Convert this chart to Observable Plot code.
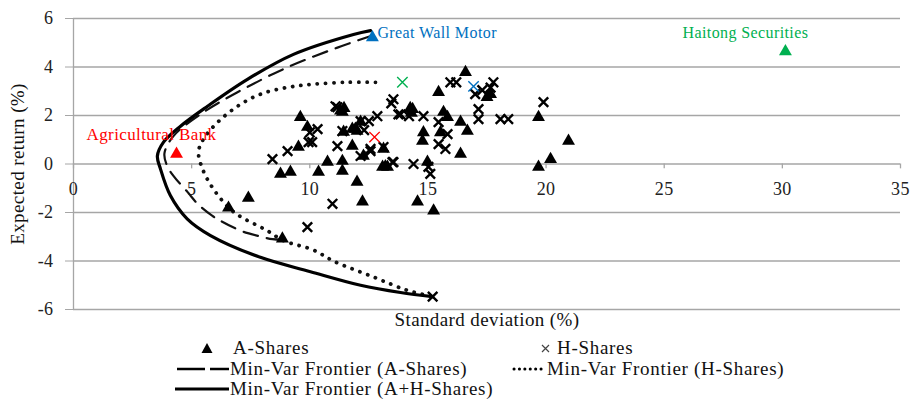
<!DOCTYPE html>
<html><head><meta charset="utf-8">
<script src="https://cdn.jsdelivr.net/npm/d3@7"></script>
<script src="https://cdn.jsdelivr.net/npm/@observablehq/plot@0.6"></script>
<style>
body{margin:0;background:#fff;font-family:"Liberation Serif",serif;}
#legend{position:relative;height:65px;width:913px;font-size:19px;letter-spacing:0.7px;color:#111;}
#legend .it{position:absolute;line-height:20px;white-space:nowrap;}
#legend svg{position:absolute;overflow:visible}
svg text{letter-spacing:0.4px}
</style></head>
<body>
<div id="chart"></div>
<div id="legend"></div>
<script>
const xTicks = [0,5,10,15,20,25,30,35];
const yTicks = [-6,-4,-2,0,2,4,6];
const xLabel = "Standard deviation (%)";
const yLabel = "Expected return (%)";

// A-shares (std dev, expected return)
const aShares = [
 [8.76,-0.41],[9.18,-0.33],[10.75,0.08],[11.38,0.12],[10.37,-0.33],[11.38,-0.29],[12.0,-0.74],
 [12.23,-1.56],[7.4,-1.4],[6.56,-1.81],[8.84,-3.08],[16.59,3.78],[15.45,2.96],[9.6,1.93],
 [11.38,2.14],[11.3,2.2],[14.35,2.26],[14.3,2.1],[15.66,2.14],[15.83,1.93],[16.38,1.73],[16.67,1.36],
 [16.38,0.41],[17.65,2.88],[17.5,2.75],[19.68,1.93],[20.95,0.95],[20.19,0.2],[19.68,-0.12],[9.52,0.7],
 [11.8,0.74],[13.08,-0.12],[13.29,-0.12],[14.56,-1.56],[15.24,-1.93],[14.98,0.08],[14.77,0.95],
 [14.81,1.3],[15.53,1.3],[11.8,1.44],[12.0,1.36],[9.9,1.52],[11.43,1.32],[11.93,1.44],[12.15,1.73],
 [12.27,0.33],[13.12,0.62],[13.2,-0.1],[14.25,2.3],[11.45,2.3]
];
// H-shares
const hShares = [
 [8.42,0.2],[10.96,-1.64],[9.9,-2.6],[15.95,3.37],[16.2,3.37],[17.77,3.37],[17.65,3.15],
 [17.0,2.88],[13.54,2.67],[13.45,2.5],[11.09,2.38],[12.86,1.97],[13.75,2.05],[14.81,1.97],
 [14.2,1.97],[17.14,2.26],[17.14,1.85],[18.07,1.85],[18.4,1.85],[19.89,2.55],[15.45,1.73],
 [15.83,1.23],[15.45,0.82],[15.74,0.62],[9.06,0.53],[10.33,1.44],[10.0,1.3],[9.95,0.9],
 [11.17,0.74],[11.38,1.36],[12.15,1.77],[12.5,1.77],[12.15,0.33],[12.57,0.62],[13.12,0.7],
 [13.5,0.08],[14.39,0.0],[15.02,-0.12],[15.1,-0.41],[15.2,-5.47],[10.1,0.9],[11.17,2.34],
 [13.84,2.05],[12.57,0.53],[13.54,0.08],[12.3,1.4],[17.3,3.05]
];
// highlighted stocks
const highlightNames = ["Great Wall Motor","Haitong Securities","Agricultural Bank"];
const highlightPts = [[12.65,5.22],[30.13,4.64],[4.36,0.41]];
const highlightColors = ["#0070C0","#00B050","#FF0000"];
const highlightH = [[16.93,3.2],[13.92,3.37],[12.74,1.11]];

// frontiers (ordered along the curve)
const frontierA = [[12.65,5.3],[11.17,4.8],[9.06,3.99],[6.94,2.96],[5.37,2.05],[4.23,1.15],[3.85,0.45],
 [3.95,-0.05],[4.23,-0.49],[4.82,-1.15],[5.25,-1.64],[5.88,-2.14],[6.22,-2.34],[7.07,-2.75],[7.49,-2.88],[8.42,-3.1],[8.84,-3.12]];
const frontierH = [[12.78,3.37],[11.6,3.37],[10.16,3.29],[9.06,3.16],[7.91,2.88],[6.94,2.38],[6.1,1.72],[5.5,1.03],
 [5.29,0.49],[5.46,-0.2],[5.92,-1.03],[6.77,-1.97],[8.2,-2.75],[8.89,-3.16],[10.16,-3.55],[11.0,-4.0],[12.7,-4.66],[14.1,-5.2],[15.2,-5.47]];
const frontierAH = [[12.57,5.5],[11.85,5.34],[9.31,4.52],[7.36,3.49],[5.67,2.38],[4.53,1.56],[3.81,0.9],[3.55,0.33],
 [3.68,-0.2],[4.1,-1.3],[4.81,-2.26],[5.8,-2.95],[7.91,-3.85],[10.03,-4.44],[12.15,-5.0],[13.84,-5.3],[15.2,-5.47]];

const legendItems = ["A-Shares","H-Shares","Min-Var Frontier (A-Shares)","Min-Var Frontier (H-Shares)","Min-Var Frontier (A+H-Shares)"];

const grid = "#a6a6a6";
const chart = Plot.plot({
  width: 913, height: 335,
  marginLeft: 73, marginRight: 13, marginTop: 18, marginBottom: 26,
  x: {domain: [0,35]},
  y: {domain: [-6,6]},
  style: {fontFamily: "Liberation Serif", fontSize: "18px", color: "#222", background: "white"},
  marks: [
    Plot.ruleY(yTicks, {stroke: grid, strokeWidth: 1.3}),
    Plot.axisY({ticks: yTicks, tickSize: 8, tickPadding: 12, stroke: grid, label: null, tickFormat: d => d}),
    Plot.axisX({ticks: [], label: null, tickSize: 0}),
    Plot.ruleX([0], {stroke: grid, strokeWidth: 1.3}),
    Plot.ruleX(xTicks, {x: d => d, y1: 0, y2: -0.2, stroke: grid, strokeWidth: 1.3}),
    Plot.text(xTicks, {x: d => d, y: 0, dy: 25, text: d => String(d), fill: "#222"}),
    Plot.text([xLabel], {frameAnchor: "bottom", dy: 16, text: d => d, fill: "#111", fontSize: 19}),
    Plot.text([yLabel], {frameAnchor: "left", textAnchor: "middle", dx: -56, rotate: -90, text: d => d, fill: "#111", fontSize: 19}),
    Plot.line(frontierH, {x: d => d[0], y: d => d[1], curve: "catmull-rom", stroke: "#111", strokeWidth: 3.8, strokeDasharray: "0.1,8.2", strokeLinecap: "round"}),
    Plot.line(frontierA, {x: d => d[0], y: d => d[1], curve: "catmull-rom", stroke: "#111", strokeWidth: 2.2, strokeDasharray: "15,9"}),
    Plot.line(frontierAH, {x: d => d[0], y: d => d[1], curve: "catmull-rom", stroke: "#000", strokeWidth: 3.2}),
    Plot.dot(hShares, {x: d => d[0], y: d => d[1], symbol: "times", r: 4.4, stroke: "#000", strokeWidth: 2.4}),
    Plot.dot(aShares, {x: d => d[0], y: d => d[1], symbol: "triangle", r: 4.8, fill: "#000", stroke: "none"}),
    Plot.dot(highlightH, {x: d => d[0], y: d => d[1], symbol: "times", r: 4.8, stroke: (d,i) => highlightColors[i], strokeWidth: 1.4}),
    Plot.dot(highlightPts, {x: d => d[0], y: d => d[1], symbol: "triangle", r: 4.8, fill: (d,i) => highlightColors[i], stroke: "none"}),
    Plot.text([0], {x: () => highlightPts[0][0], y: () => highlightPts[0][1], text: () => highlightNames[0], fill: highlightColors[0], textAnchor: "start", dx: 5, dy: -5, fontSize: 16}),
    Plot.text([0], {x: () => highlightPts[1][0], y: () => highlightPts[1][1], text: () => highlightNames[1], fill: highlightColors[1], dx: -40, dy: -19, fontSize: 16}),
    Plot.text([0], {x: () => highlightPts[2][0], y: () => highlightPts[2][1], text: () => highlightNames[2], fill: highlightColors[2], dx: -25, dy: -20, fontSize: 17})
  ]
});
document.getElementById("chart").appendChild(chart);

// legend
const lg = document.getElementById("legend");
function item(x, yc, text){ const d=document.createElement("div"); d.className="it"; d.style.left=x+"px"; d.style.top=(yc-10)+"px"; d.textContent=text; lg.appendChild(d);}
function sym(x, y, w, h, inner){ const ns="http://www.w3.org/2000/svg"; const s=document.createElementNS(ns,"svg"); s.setAttribute("width",w); s.setAttribute("height",h); s.style.left=x+"px"; s.style.top=y+"px"; s.innerHTML=inner; lg.appendChild(s);}
sym(201,7,12,12,'<path d="M6,1 L11.5,11 L0.5,11 Z" fill="#000"/>');
item(233,13,legendItems[0]);
sym(541,9,9,9,'<path d="M1,1 L8,8 M8,1 L1,8" stroke="#444" stroke-width="1.2"/>');
item(557,13,legendItems[1]);
sym(177,31,52,6,'<path d="M0,3 H28 M33,3 H52" stroke="#000" stroke-width="2.4"/>');
item(230,34,legendItems[2]);
sym(512,31,34,6,'<path d="M2,3 H32" stroke="#000" stroke-width="3" stroke-dasharray="0.1,5.3" stroke-linecap="round"/>');
item(547,34,legendItems[3]);
sym(175,51,54,6,'<path d="M0,3 H54" stroke="#000" stroke-width="3.2"/>');
item(230,54,legendItems[4]);
</script>
</body></html>
